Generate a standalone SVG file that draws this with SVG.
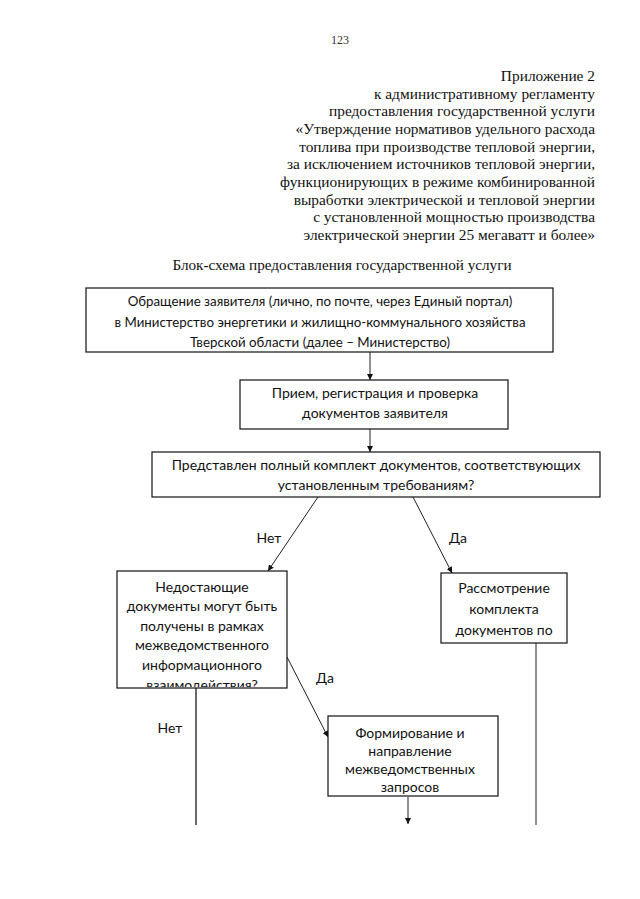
<svg xmlns="http://www.w3.org/2000/svg" width="640" height="899" viewBox="0 0 640 899">
<style>
.hdr{font-family:"Liberation Serif","Times New Roman",serif;font-size:15.4px;fill:#111;text-anchor:end}
.ttl{font-family:"Liberation Serif","Times New Roman",serif;font-size:15.2px;fill:#111;text-anchor:middle}
.pg{font-family:"Liberation Serif","Times New Roman",serif;font-size:12px;fill:#333;text-anchor:middle}
.box{fill:#fff;stroke:#111;stroke-width:1.2}
.t{font-family:Lato,"Liberation Sans",sans-serif;font-size:14px;fill:#111;text-anchor:middle}
.t1{font-family:Lato,"Liberation Sans",sans-serif;font-size:13.3px;fill:#111;text-anchor:middle}
.lbl{font-family:Lato,"Liberation Sans",sans-serif;font-size:14px;fill:#111;text-anchor:middle}
.ln{stroke:#222;stroke-width:1;fill:none}
.lnh{stroke:#444;stroke-width:1.6;fill:none}
</style>
<defs>
<marker id="ah" viewBox="0 0 10 10" refX="10" refY="5" markerWidth="6" markerHeight="6" orient="auto" markerUnits="userSpaceOnUse">
<path d="M0,0 L10,5 L0,10 z" fill="#111"/>
</marker>
<clipPath id="c4"><rect x="117" y="571" width="170" height="116"/></clipPath>
</defs>
<rect width="640" height="899" fill="#fff"/>
<text class="pg" x="340" y="44">123</text>
<g id="header">
<text class="hdr" x="595" y="81">Приложение 2</text>
<text class="hdr" x="595" y="99">к административному регламенту</text>
<text class="hdr" x="595" y="116">предоставления государственной услуги</text>
<text class="hdr" x="595" y="134">«Утверждение нормативов удельного расхода</text>
<text class="hdr" x="595" y="152">топлива при производстве тепловой энергии,</text>
<text class="hdr" x="595" y="169">за исключением источников тепловой энергии,</text>
<text class="hdr" x="595" y="187">функционирующих в режиме комбинированной</text>
<text class="hdr" x="595" y="205">выработки электрической и тепловой энергии</text>
<text class="hdr" x="595" y="222">с установленной мощностью производства</text>
<text class="hdr" x="595" y="240">электрической энергии 25 мегаватт и более»</text>
</g>
<text class="ttl" x="342" y="270">Блок-схема предоставления государственной услуги</text>
<g id="connectors">
<line class="ln" x1="370" y1="352" x2="370" y2="380" marker-end="url(#ah)"/>
<line class="ln" x1="370" y1="429" x2="370" y2="452" marker-end="url(#ah)"/>
<line class="ln" x1="318" y1="497" x2="268" y2="571" marker-end="url(#ah)"/>
<line class="ln" x1="413" y1="497" x2="452" y2="573" marker-end="url(#ah)"/>
<line class="ln" x1="287" y1="657" x2="328" y2="737" marker-end="url(#ah)"/>
<line class="lnh" x1="196" y1="688" x2="196" y2="825"/>
<line class="ln" x1="536" y1="643" x2="536" y2="825"/>
<line class="ln" x1="408" y1="797" x2="408" y2="824" marker-end="url(#ah)"/>
<text class="lbl" x="269" y="543">Нет</text>
<text class="lbl" x="458" y="543">Да</text>
<text class="lbl" x="325" y="683">Да</text>
<text class="lbl" x="170" y="733">Нет</text>
</g>
<g id="n1">
<rect class="box" x="86" y="288" width="467" height="64"/>
<text class="t1" x="320" y="306">Обращение заявителя (лично, по почте, через Единый портал)</text>
<text class="t1" x="320" y="327">в Министерство энергетики и жилищно-коммунального хозяйства</text>
<text class="t1" x="320" y="347">Тверской области (далее – Министерство)</text>
</g>
<g id="n2">
<rect class="box" x="240" y="380" width="268" height="49"/>
<text class="t" x="375" y="398">Прием, регистрация и проверка</text>
<text class="t" x="375" y="418">документов заявителя</text>
</g>
<g id="n3">
<rect class="box" x="152" y="452" width="448" height="45"/>
<text class="t" x="376" y="470">Представлен полный комплект документов, соответствующих</text>
<text class="t" x="376" y="490">установленным требованиям?</text>
</g>
<g id="n4">
<rect class="box" x="117" y="571" width="170" height="117"/>
<g clip-path="url(#c4)">
<text class="t" x="202" y="592">Недостающие</text>
<text class="t" x="202" y="611">документы могут быть</text>
<text class="t" x="202" y="631">получены в рамках</text>
<text class="t" x="202" y="650">межведомственного</text>
<text class="t" x="202" y="670">информационного</text>
<text class="t" x="202" y="690">взаимодействия?</text>
</g>
</g>
<g id="n5">
<rect class="box" x="441" y="573" width="126" height="70"/>
<text class="t" x="504" y="593">Рассмотрение</text>
<text class="t" x="504" y="614">комплекта</text>
<text class="t" x="504" y="635">документов по</text>
</g>
<g id="n6">
<rect class="box" x="328" y="716" width="170" height="80"/>
<text class="t" x="410" y="738">Формирование и</text>
<text class="t" x="410" y="756">направление</text>
<text class="t" x="410" y="774">межведомственных</text>
<text class="t" x="410" y="792">запросов</text>
</g>
</svg>
